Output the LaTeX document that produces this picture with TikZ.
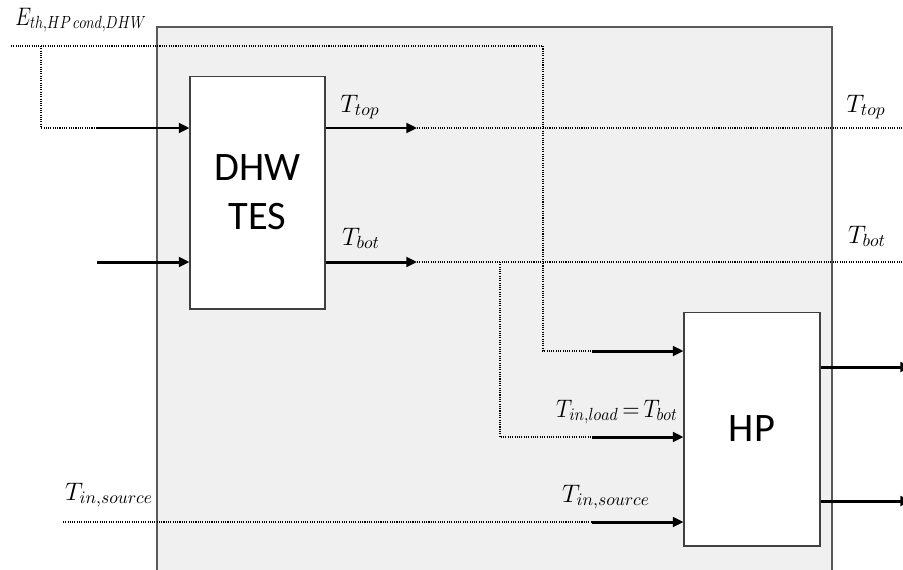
\documentclass[tikz,border=0pt]{standalone}
\usepackage{fontspec}
\newfontfamily\blockfont{Carlito}
\usetikzlibrary{arrows.meta, positioning}

\begin{document}
\begin{tikzpicture}[x=0.02cm, y=-0.02cm]

\tikzset{block/.style = {draw=black!75, fill=white, line width=0.6pt, inner sep=0pt, align=center, font=\blockfont\fontsize{23}{28}\selectfont}}
\tikzset{flow/.style = {line width=1.7pt, -{Triangle[length=6pt,width=5.5pt]}}}
\tikzset{signal/.style = {line width=0.6pt, dash pattern=on 0.6pt off 0.7pt}}
\tikzset{lbl/.style = {anchor=base, inner sep=0pt, font=\fontsize{14.5}{17}\selectfont}}

\useasboundingbox (0,0) rectangle (903,569);
\clip (0,0) rectangle (903,569);

% system boundary
\fill[gray!12] (157,27) rectangle (832,600);
\draw[black!65, line width=0.8pt] (157,600) -- (157,27) -- (832,27) -- (832,600);

% blocks
\node[block, minimum width=2.7cm, minimum height=4.66cm] (tes) at (257.5,192.5) {DHW\\TES};
\node[block, minimum width=2.72cm, minimum height=4.68cm] (hp) at (752,429) {HP};

% points
\coordinate (eStart) at (11,46);
\coordinate (eBranch) at (41,46);
\coordinate (eTurn) at (543,46);
\coordinate (inA) at (97,128);
\coordinate (inB) at (97,262);
\coordinate (topOut) at (417,128);
\coordinate (topEnd) at (903,128);
\coordinate (botOut) at (417,262);
\coordinate (botBranch) at (500,262);
\coordinate (botEnd) at (903,262);
\coordinate (srcStart) at (63,522);
\coordinate (hpInA) at (592,351);
\coordinate (hpInB) at (592,437);
\coordinate (hpInC) at (592,522);
\coordinate (outA) at (911,367);
\coordinate (outB) at (911,501);

% signals
\draw[signal] (eStart) -- (eTurn) |- (hpInA);
\draw[signal] (eBranch) |- (inA);
\draw[signal] (topOut) -- (topEnd);
\draw[signal] (botOut) -- (botEnd);
\draw[signal] (botBranch) |- (hpInB);
\draw[signal] (srcStart) -- (hpInC);

% flows
\draw[flow] (inA) -- (inA -| tes.west);
\draw[flow] (inB) -- (inB -| tes.west);
\draw[flow] (topOut -| tes.east) -- (topOut);
\draw[flow] (botOut -| tes.east) -- (botOut);
\draw[flow] (hpInA) -- (hpInA -| hp.west);
\draw[flow] (hpInB) -- (hpInB -| hp.west);
\draw[flow] (hpInC) -- (hpInC -| hp.west);
\draw[flow] (outA -| hp.east) -- (outA);
\draw[flow] (outB -| hp.east) -- (outB);

% labels
\node[lbl, anchor=base west] (eLbl) at (15,25) {\scalebox{0.8}[1]{$E_{th,HP\,cond,DHW}$}};
\node[lbl] (topLbl) at (360,112) {$T_{top}$};
\node[lbl] (botLbl) at (361,245) {$T_{bot}$};
\node[lbl] (topRLbl) at (866,112) {$T_{top}$};
\node[lbl] (botRLbl) at (867,243) {$T_{bot}$};
\node[lbl] (srcLbl) at (109,500) {$T_{in,source}$};
\node[lbl, anchor=base east] (loadLbl) at (678,417) {\scalebox{0.9}[1]{$T_{in,load}\,{=}\,T_{bot}$}};
\node[lbl] (srcHpLbl) at (606,502) {$T_{in,source}$};

\end{tikzpicture}
\end{document}
